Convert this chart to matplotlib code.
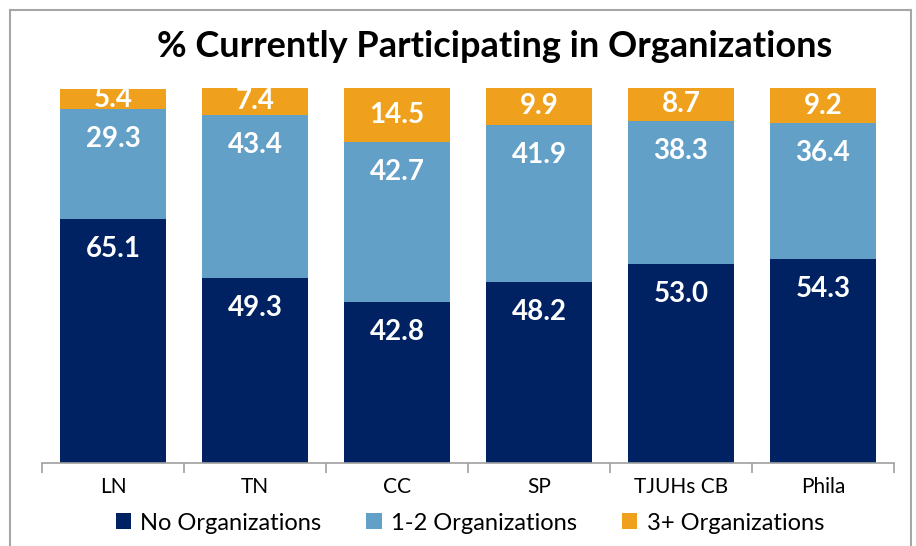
import numpy as np
import matplotlib.pyplot as plt
from matplotlib.lines import Line2D

# Chart data.
categories = ["LN", "TN", "CC", "SP", "TJUHs CB", "Phila"]
no_org = [65.1, 49.3, 42.8, 48.2, 53.0, 54.3]
one_two = [29.3, 43.4, 42.7, 41.9, 38.3, 36.4]
three_plus = [5.4, 7.4, 14.5, 9.9, 8.7, 9.2]
series_names = ["No Organizations", "1-2 Organizations", "3+ Organizations"]
colors = ["#002262", "#63A0C8", "#EFA11E"]

plt.rcParams['font.family'] = ['Lato', 'DejaVu Sans']

fig = plt.figure(figsize=(9.16, 5.46), dpi=100)
ax = fig.add_axes([0.0459, 0.152, 0.9301, 0.687])

x = np.arange(len(categories))
bottom = np.zeros(len(categories))
for vals, name, col in zip([no_org, one_two, three_plus], series_names, colors):
    vals = np.array(vals)
    ax.bar(x, vals, 0.75, bottom=bottom, color=col, label=name)
    # Labels sit near the top of each segment, centred for small ones.
    for xi, b, v in zip(x, bottom, vals):
        top = b + v
        ax.text(xi, top - min(8.0, v / 2), f"{v:.1f}", ha='center', va='center',
                color='white', fontsize=20, fontweight='bold')
    bottom += vals

ax.set_xlim(-0.5, len(categories) - 0.5)
ax.set_ylim(0, 100)
ax.set_yticks([])
for s in ['top', 'right', 'left']:
    ax.spines[s].set_visible(False)
ax.spines['bottom'].set_color('#A0A0A0')
ax.spines['bottom'].set_linewidth(1.2)

# Tick marks between categories, labels centred under bars.
ax.set_xticks(np.arange(-0.5, len(categories), 1.0))
ax.set_xticklabels([])
ax.set_xticks(x, minor=True)
ax.set_xticklabels(categories, minor=True, fontsize=15)
ax.tick_params(axis='x', which='major', direction='out', length=7, width=1.2, color='#A0A0A0')
ax.tick_params(axis='x', which='minor', length=0, pad=10)

fig.text(0.54, 0.914, "% Currently Participating in Organizations", ha='center', va='center',
         fontsize=26, fontweight='bold')

fig.legend(loc='center', bbox_to_anchor=(0.513, 0.042), ncol=3, frameon=False,
           fontsize=17, handlelength=0.65, handleheight=0.65, handletextpad=0.4,
           columnspacing=1.9, borderaxespad=0)

# Gray chart frame (bottom edge runs off the image).
fc = '#A6A6A6'
fig.add_artist(Line2D([0.0109, 0.0109], [-0.1, 0.9817], color=fc, lw=1.5))
fig.add_artist(Line2D([0.0109, 0.9945], [0.9817, 0.9817], color=fc, lw=1.5))
fig.add_artist(Line2D([0.9945, 0.9945], [-0.1, 0.9817], color=fc, lw=1.5))

fig.savefig("out.png", dpi=100)
